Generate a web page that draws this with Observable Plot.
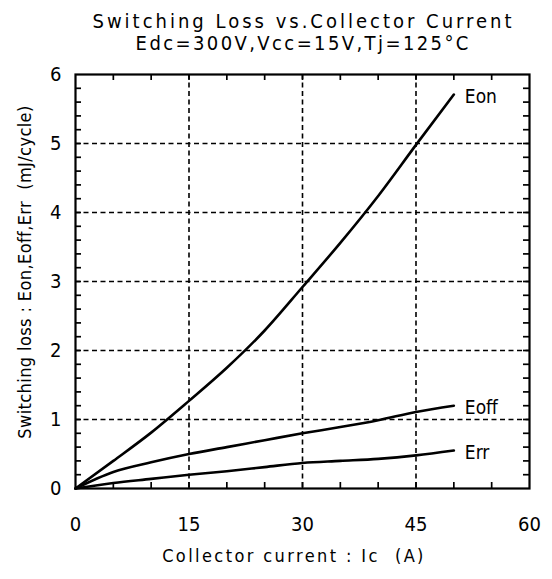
<!DOCTYPE html>
<html>
<head>
<meta charset="utf-8">
<script src="https://cdn.jsdelivr.net/npm/d3@7"></script>
<script src="https://cdn.jsdelivr.net/npm/@observablehq/plot@0.6"></script>
<style>
  html, body { margin: 0; padding: 0; background: white; }
</style>
</head>
<body>
<div id="chart"></div>
<script>
// ---- data ----
const current = [0, 5, 10, 15, 20, 25, 30, 35, 40, 45, 50];          // Ic (A)
const eon  = [0, 0.40, 0.81, 1.27, 1.75, 2.29, 2.92, 3.56, 4.24, 4.98, 5.71];
const eoff = [0, 0.24, 0.38, 0.50, 0.60, 0.70, 0.80, 0.89, 0.99, 1.11, 1.20];
const err  = [0, 0.08, 0.14, 0.20, 0.25, 0.31, 0.37, 0.40, 0.43, 0.48, 0.55];
const seriesNames = ["Eon", "Eoff", "Err"];

const xMajor = [0, 15, 30, 45, 60];
const xMinor = [5, 10, 15, 20, 25, 30, 35, 40, 45, 50, 55];
const yMajor = [0, 1, 2, 3, 4, 5, 6];
const yMinor = d3.range(1, 30).map(i => +(i * 0.2).toFixed(1));

const titleLines = ["Switching Loss vs.Collector Current", "Edc=300V,Vcc=15V,Tj=125°C"];
const xTitle = "Collector current : Ic  (A)";
const yTitle = "Switching loss : Eon,Eoff,Err  (mJ/cycle)";

// table built from the arrays
const valuesBySeries = {Eon: eon, Eoff: eoff, Err: err};
const table = seriesNames.flatMap(s => current.map((c, i) => ({series: s, current: c, value: valuesBySeries[s][i]})));

const W = 552, H = 579, mL = 75, mR = 23, mT = 74, mB = 91;
const frameW = W - mL - mR, frameH = H - mT - mB, tickLen = 6;
const fam = "'Liberation Sans Narrow','DejaVu Sans Condensed','Arial Narrow',sans-serif";
const dash = "5,3.5";
const tickStyle = {stroke: "black", strokeWidth: 1.7};
const cx = mL + frameW / 2;

const chart = Plot.plot({
  width: W, height: H, marginLeft: mL, marginRight: mR, marginTop: mT, marginBottom: mB,
  style: {fontFamily: fam, background: "white", color: "black", overflow: "visible"},
  x: {domain: [0, 60], label: null},
  y: {domain: [0, 6], label: null},
  marks: [
    // dashed grid
    Plot.ruleX(xMajor.slice(1, -1), {stroke: "black", strokeWidth: 1.6, strokeDasharray: dash}),
    Plot.ruleY(yMajor.slice(1, -1), {stroke: "black", strokeWidth: 1.6, strokeDasharray: dash}),
    // inward minor ticks on all four sides
    Plot.tickX(xMinor, {x: d => d, insetTop: frameH - tickLen, ...tickStyle}),
    Plot.tickX(xMinor, {x: d => d, insetBottom: frameH - tickLen, ...tickStyle}),
    Plot.tickY(yMinor, {y: d => d, insetRight: frameW - tickLen, ...tickStyle}),
    Plot.tickY(yMinor, {y: d => d, insetLeft: frameW - tickLen, ...tickStyle}),
    // tick labels
    Plot.axisX(xMajor, {anchor: "bottom", tickSize: 0, tickPadding: 28, fontSize: 20, label: null, tickFormat: d => String(d)}),
    Plot.axisY(yMajor, {anchor: "left", tickSize: 0, tickPadding: 14, fontSize: 20, label: null, tickFormat: d => String(d)}),
    Plot.frame({stroke: "black", strokeWidth: 2.2}),
    // curves and their end labels
    Plot.line(table, {x: "current", y: "value", z: "series", stroke: "black", strokeWidth: 2.6, curve: "monotone-x"}),
    Plot.text(table, Plot.selectLast({x: "current", y: "value", z: "series", text: "series",
      textAnchor: "start", dx: 11, dy: 2, fontSize: 19, fill: "black"}))
  ]
});
document.getElementById("chart").appendChild(chart);

// titles as real SVG text, widened with letter spacing like the monospace originals
const svg = d3.select(chart);
function addText(str, x, y, size, spacing, rotate) {
  svg.append("text")
    .attr("font-family", fam)
    .attr("font-size", size)
    .attr("letter-spacing", spacing)
    .attr("fill", "black")
    .attr("text-anchor", "middle")
    .attr("transform", `translate(${x},${y})` + (rotate ? ` rotate(${rotate})` : ""))
    .text(str);
}
addText(titleLines[0], cx + 1.5, 28, 20, 3);
addText(titleLines[1], cx + 1.2, 50, 20, 2.4);
addText(xTitle, cx - 8, H - 17, 18, 2.4);
addText(yTitle, 31, mT + frameH / 2 - 9, 18, 0.4, -90);
</script>
</body>
</html>
